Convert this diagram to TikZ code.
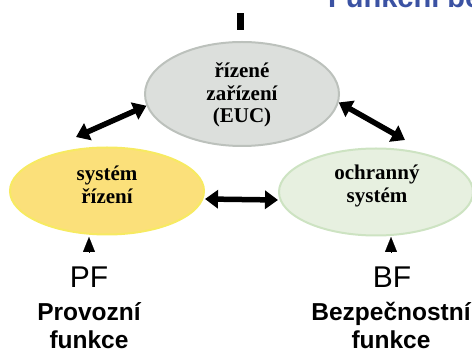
\documentclass[tikz,border=0pt]{standalone}
\usepackage{fontspec}
\setmainfont{Liberation Serif}
\setsansfont{Liberation Sans}
\usetikzlibrary{shapes.geometric,arrows.meta}

\definecolor{eucfill}{HTML}{DCDFDC}
\definecolor{eucline}{HTML}{BCC1BC}
\definecolor{ctlfill}{HTML}{FBE07A}
\definecolor{ctlline}{HTML}{F7EA62}
\definecolor{saffill}{HTML}{E7F0E0}
\definecolor{safline}{HTML}{CDE3C2}
\definecolor{titleblue}{HTML}{3B52A3}

\tikzset{
  blob/.style={ellipse, inner sep=0pt, line width=2pt},
  blobtext/.style={align=center, inner sep=0pt,
    font=\fontsize{21}{22.5}\selectfont\bfseries},
  dblarrow/.style={line width=5.5pt,
    {Triangle[length=13pt,width=18pt]}-{Triangle[length=13pt,width=18pt]}},
  uparrow/.style={line width=0.1pt, -{Triangle[length=15pt,width=12pt]}},
  abbr/.style={inner sep=0pt, font=\sffamily\fontsize{30}{30}\selectfont},
  fnlabel/.style={align=center, inner sep=0pt,
    font=\sffamily\bfseries\fontsize{24.5}{28}\selectfont},
}

\begin{document}
\begin{tikzpicture}[x=1pt,y=1pt]
  \useasboundingbox (0,0) rectangle (472,-352);
  \clip (0,0) rectangle (472,-352);

  % heading, partly cut by the page edge
  \node[anchor=base west, inner sep=0pt, text=titleblue,
        font=\sffamily\bfseries\fontsize{29}{29}\selectfont]
        (title) at (328,-8) {Funkční bezpečnost};

  % short bar above the controlled equipment
  \fill (237,-13) rectangle (244,-30);

  % the three blocks
  \node[blob, fill=eucfill, draw=eucline, minimum width=194pt, minimum height=104pt]
        (euc) at (242,-94) {};
  \node[blob, fill=ctlfill, draw=ctlline, minimum width=194pt, minimum height=87pt]
        (ctl) at (107,-191) {};
  \node[blob, fill=saffill, draw=safline, minimum width=194pt, minimum height=87pt]
        (saf) at (376,-192) {};

  \node[blobtext] (euctxt) at (242,-95) {řízené\\zařízení\\(EUC)};
  \node[blobtext] (ctltxt) at (107,-185) {systém\\řízení};
  \node[blobtext] (saftxt) at (377,-186) {ochranný\\systém};

  % links between the blocks
  \coordinate (lt) at (76,-137);
  \coordinate (rt) at (405,-140);
  \draw[dblarrow] (lt) -- (euc.187);
  \draw[dblarrow] (euc.355) -- (rt);
  \draw[dblarrow] ([yshift=-8pt]ctl.east) -- ([yshift=-8pt]saf.west);

  % inputs from below
  \coordinate (pfa) at (89,-252);
  \coordinate (pfb) at (89,-237);
  \coordinate (bfa) at (391,-252);
  \coordinate (bfb) at (391,-237);
  \draw[uparrow] (pfa) -- (pfb);
  \draw[uparrow] (bfa) -- (bfb);

  \node[abbr, anchor=base] (pf) at (89,-288) {PF};
  \node[abbr, anchor=base] (bf) at (392,-288) {BF};

  % base anchor of a two-line label sits on its last line
  \node[fnlabel, anchor=base] (pfn) at (89,-349) {Provozní\\funkce};
  \node[fnlabel, anchor=base] (bfn) at (391,-349) {Bezpečnostní\\funkce};
\end{tikzpicture}
\end{document}
